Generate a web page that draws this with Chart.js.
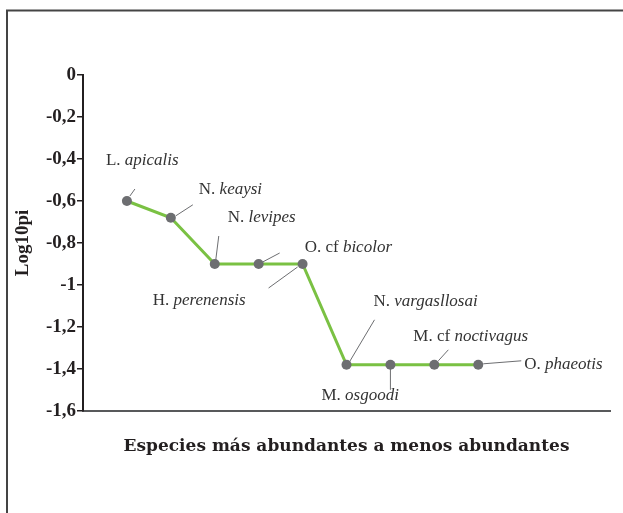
<!DOCTYPE html>
<html>
<head>
<meta charset="utf-8">
<script src="https://cdn.jsdelivr.net/npm/chart.js@4"></script>
<style>
  html, body { margin: 0; padding: 0; background: #fff; }
  #wrap { width: 623px; height: 513px; }
</style>
</head>
<body>
<div id="wrap"><canvas id="rankChart" width="623" height="513"></canvas></div>
<script>
// rank of each species (most to least abundant) and its Log10pi value
const ranks = [1, 2, 3, 4, 5, 6, 7, 8, 9];
const log10pi = [-0.6, -0.68, -0.9, -0.9, -0.9, -1.38, -1.38, -1.38, -1.38];
const species = [
    'L. apicalis', 'N. keaysi', 'N. levipes', 'O. cf bicolor', 'H. perenensis',
    'N. vargasllosai', 'M. osgoodi', 'M. cf noctivagus', 'O. phaeotis'
];
const yTickValues = [0, -0.2, -0.4, -0.6, -0.8, -1, -1.2, -1.4, -1.6];
const yTickLabels = ['0', '-0,2', '-0,4', '-0,6', '-0,8', '-1', '-1,2', '-1,4', '-1,6'];

// where each species label sits relative to its point (text anchor + leader line)
const labelLayout = [
    { dx: -21, dy: -36, align: 'left',  l: [3, -5, 8, -12] },
    { dx: 28,  dy: -24, align: 'left',  l: [5, -2, 22, -13] },
    { dx: 13,  dy: -42, align: 'left',  l: [1, -4, 4, -28] },
    { dx: 46,  dy: -12, align: 'left',  l: [4, -2, 21, -11] },
    { dx: -57, dy: 41,  align: 'right', l: [-5, 3, -34, 24] },
    { dx: 27,  dy: -59, align: 'left',  l: [3, -3, 28, -45] },
    { dx: -69, dy: 35,  align: 'left',  l: [0, 4, 0, 25] },
    { dx: -21, dy: -24, align: 'left',  l: [4, -4, 14, -15] },
    { dx: 46,  dy: 4,   align: 'left',  l: [5, -1, 43, -4] }
];

const labelFont = '17px "Liberation Serif", serif';
const labelFontItalic = 'italic 17px "Liberation Serif", serif';

const frame = {
    id: 'frame',
    beforeDraw(chart) {
        const c = chart.ctx;
        c.save();
        c.fillStyle = '#fff';
        c.fillRect(0, 0, chart.width, chart.height);
        c.strokeStyle = '#444';
        c.lineWidth = 2;
        c.beginPath();
        c.moveTo(7, chart.height);
        c.lineTo(7, 10.5);
        c.lineTo(chart.width, 10.5);
        c.stroke();
        c.restore();
    }
};

const speciesLabels = {
    id: 'speciesLabels',
    afterDatasetsDraw(chart) {
        const c = chart.ctx;
        const pts = chart.getDatasetMeta(0).data;
        c.save();
        pts.forEach((p, i) => {
            const lay = labelLayout[i];
            // leader line
            c.strokeStyle = '#6d6e71';
            c.lineWidth = 1;
            c.beginPath();
            c.moveTo(p.x + lay.l[0], p.y + lay.l[1]);
            c.lineTo(p.x + lay.l[2], p.y + lay.l[3]);
            c.stroke();
            // name: genus part upright, epithet in italics
            const name = species[i];
            const cut = name.lastIndexOf(' ') + 1;
            const plain = name.slice(0, cut);
            const ital = name.slice(cut);
            c.fillStyle = '#333';
            c.textBaseline = 'alphabetic';
            c.textAlign = 'left';
            c.font = labelFont;
            const w1 = c.measureText(plain).width;
            c.font = labelFontItalic;
            const w2 = c.measureText(ital).width;
            let x = p.x + lay.dx;
            if (lay.align === 'right') x -= (w1 + w2);
            const y = p.y + lay.dy;
            c.font = labelFont;
            c.fillText(plain, x, y);
            c.font = labelFontItalic;
            c.fillText(ital, x + w1, y);
        });
        c.restore();
    }
};

const ctx = document.getElementById('rankChart').getContext('2d');
new Chart(ctx, {
    type: 'line',
    data: {
        datasets: [{
            data: ranks.map((r, i) => ({ x: r, y: log10pi[i] })),
            borderColor: '#7ac143',
            borderWidth: 3,
            pointRadius: 5,
            pointBackgroundColor: '#6d6e71',
            pointBorderWidth: 0,
            tension: 0
        }]
    },
    options: {
        responsive: false,
        animation: false,
        layout: { padding: { top: 75, right: 13, left: 0, bottom: 0 } },
        plugins: { legend: { display: false }, tooltip: { enabled: false } },
        scales: {
            x: {
                type: 'linear',
                min: 0,
                max: 12,
                grid: { display: false },
                border: { color: '#58595b', width: 2 },
                ticks: { display: false },
                afterFit: s => { s.height = 102; },
                title: {
                    display: true,
                    text: 'Especies más abundantes a menos abundantes',
                    color: '#231f20',
                    font: { family: '"DejaVu Serif", serif', size: 17, weight: 'bold' },
                    padding: { top: 0, bottom: 56 }
                }
            },
            y: {
                type: 'linear',
                min: -1.6,
                max: 0,
                afterBuildTicks: s => { s.ticks = yTickValues.slice().reverse().map(v => ({ value: v })); },
                afterFit: s => { s.width = 83; },
                grid: { drawOnChartArea: false, drawTicks: true, tickLength: 6, color: '#231f20', lineWidth: 1.5 },
                border: { color: '#231f20', width: 2 },
                ticks: {
                    padding: 1,
                    color: '#231f20',
                    font: { family: '"Liberation Serif", serif', size: 19, weight: 'bold' },
                    callback: v => yTickLabels[yTickValues.indexOf(v)]
                },
                title: {
                    display: true,
                    text: 'Log10pi',
                    color: '#231f20',
                    font: { family: '"Liberation Serif", serif', size: 19, weight: 'bold' },
                    padding: { top: 12, bottom: 0 }
                }
            }
        }
    },
    plugins: [frame, speciesLabels]
});
</script>
</body>
</html>
